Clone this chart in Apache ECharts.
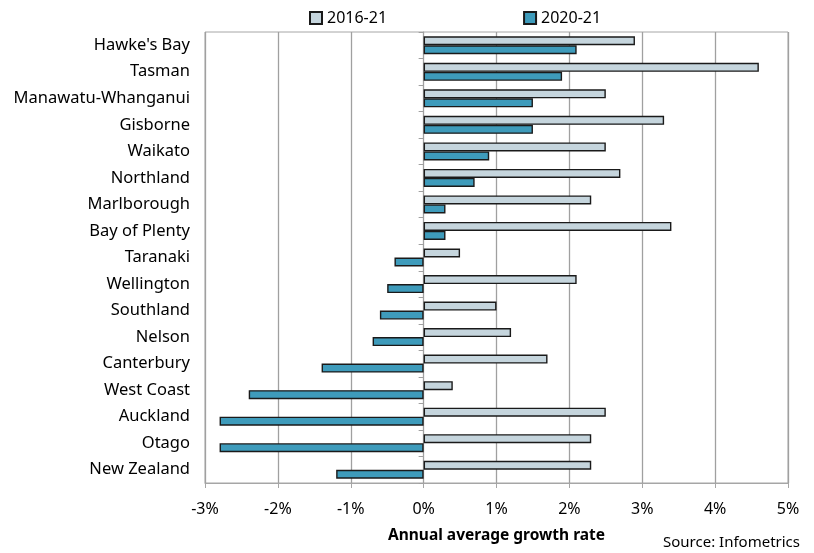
<!DOCTYPE html>
<html>
<head>
<meta charset="utf-8">
<script src="https://cdn.jsdelivr.net/npm/echarts@6/dist/echarts.min.js"></script>
<style>
  html, body { margin: 0; padding: 0; background: #fff; }
  #chart { width: 814px; height: 553px; }
</style>
</head>
<body>
<div id="chart"></div>
<script>
var regions = ["Hawke's Bay", 'Tasman', 'Manawatu-Whanganui', 'Gisborne', 'Waikato', 'Northland',
    'Marlborough', 'Bay of Plenty', 'Taranaki', 'Wellington', 'Southland', 'Nelson',
    'Canterbury', 'West Coast', 'Auckland', 'Otago', 'New Zealand'];
var growth1621 = [2.9, 4.6, 2.5, 3.3, 2.5, 2.7, 2.3, 3.4, 0.5, 2.1, 1.0, 1.2, 1.7, 0.4, 2.5, 2.3, 2.3];
var growth2021 = [2.1, 1.9, 1.5, 1.5, 0.9, 0.7, 0.3, 0.3, -0.4, -0.5, -0.6, -0.7, -1.4, -2.4, -2.8, -2.8, -1.2];
var seriesNames = ['2016-21', '2020-21'];

var font = 'Noto Sans';
var charts = echarts.init(document.getElementById('chart'));
var option = {
    animation: false,
    textStyle: { fontFamily: font },
    legend: {
        top: 5,
        left: 304,
        itemGap: 136,
        itemWidth: 12,
        itemHeight: 12,
        icon: 'rect',
        textStyle: { fontSize: 16, color: '#000', fontFamily: font },
        data: seriesNames
    },
    grid: {
        left: 205, right: 26, top: 32, bottom: 70,
        show: true, borderColor: '#a6a6a6', borderWidth: 1
    },
    xAxis: {
        type: 'value',
        min: -3, max: 5, interval: 1,
        axisLine: { show: true, onZero: false, lineStyle: { color: '#a6a6a6' } },
        axisTick: { show: true, length: 5, lineStyle: { color: '#a6a6a6' } },
        axisLabel: {
            fontSize: 16, color: '#000', margin: 18,
            formatter: function (v) { return v + '%'; }
        },
        splitLine: { show: true, lineStyle: { color: '#a0a0a0', width: 1.3 } },
        name: 'Annual average growth rate',
        nameLocation: 'middle',
        nameGap: 45,
        nameTextStyle: { fontSize: 15.5, fontWeight: 'bold', color: '#000' }
    },
    yAxis: [{
        type: 'category',
        data: regions,
        inverse: true,
        axisLine: { show: false, onZero: false },
        axisTick: { show: false },
        axisLabel: { fontSize: 16.5, color: '#000', margin: 15 }
    }, {
        type: 'category',
        data: regions,
        inverse: true,
        position: 'left',
        axisLine: { show: true, onZero: true, lineStyle: { color: '#a0a0a0' } },
        axisTick: { show: true, length: 5, lineStyle: { color: '#a0a0a0' } },
        axisLabel: { show: false }
    }],
    series: [{
        name: seriesNames[0],
        type: 'bar',
        data: growth1621,
        barWidth: 9,
        barGap: '0%',
        itemStyle: { color: '#c5d5dd', borderColor: '#1a1a1a', borderWidth: 1.4 }
    }, {
        name: seriesNames[1],
        type: 'bar',
        data: growth2021,
        barWidth: 9,
        barGap: '0%',
        itemStyle: { color: '#3e9bbb', borderColor: '#1a1a1a', borderWidth: 1.4 }
    }],
    graphic: [{
        type: 'text',
        right: 14,
        top: 535,
        style: { text: 'Source: Infometrics', fontSize: 15, fill: '#000', fontFamily: font }
    }]
};
charts.setOption(option);
</script>
</body>
</html>
